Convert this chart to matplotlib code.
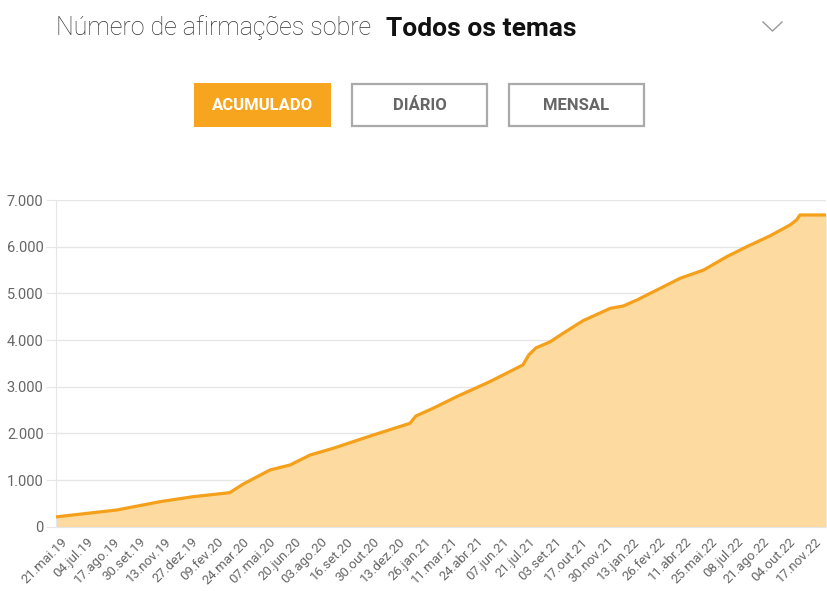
import matplotlib
matplotlib.use("Agg")
import matplotlib.pyplot as plt
from matplotlib.patches import Rectangle
from matplotlib.lines import Line2D
from matplotlib.ticker import FuncFormatter
import matplotlib.transforms as mtransforms
import pandas as pd

# ---------------- data ----------------
dates = ["2019-05-21", "2019-09-01", "2019-11-13", "2020-01-08", "2020-03-10",
         "2020-04-01", "2020-05-17", "2020-06-20", "2020-07-24", "2020-09-01",
         "2020-11-08", "2021-01-09", "2021-01-19", "2021-02-17", "2021-03-29",
         "2021-05-24", "2021-07-19", "2021-07-29", "2021-08-10", "2021-09-03",
         "2021-09-25", "2021-10-29", "2021-12-14", "2022-01-05", "2022-01-28",
         "2022-03-14", "2022-04-11", "2022-05-21", "2022-06-29", "2022-08-02",
         "2022-09-10", "2022-10-14", "2022-10-25", "2022-10-31", "2022-12-14"]
values = [210, 358, 536, 643, 729,
          908, 1215, 1322, 1536, 1680,
          1965, 2215, 2372, 2537, 2786,
          3107, 3465, 3680, 3830, 3960,
          4143, 4415, 4679, 4729, 4857,
          5143, 5322, 5500, 5785, 6000,
          6230, 6464, 6571, 6679, 6679]

tick_labels = ["21.mai.19", "04.jul.19", "17.ago.19", "30.set.19", "13.nov.19",
               "27.dez.19", "09.fev.20", "24.mar.20", "07.mai.20", "20.jun.20",
               "03.ago.20", "16.set.20", "30.out.20", "13.dez.20", "26.jan.21",
               "11.mar.21", "24.abr.21", "07.jun.21", "21.jul.21", "03.set.21",
               "17.out.21", "30.nov.21", "13.jan.22", "26.fev.22", "11.abr.22",
               "25.mai.22", "08.jul.22", "21.ago.22", "04.out.22", "17.nov.22"]
y_ticks = [0, 1000, 2000, 3000, 4000, 5000, 6000, 7000]

title_regular = "Número de afirmações sobre"
title_bold = "Todos os temas"
buttons = ["ACUMULADO", "DIÁRIO", "MENSAL"]

# ---------------- style ----------------
LINE = "#F5A01A"
FILL = "#FDDA9F"
GRID = "#E6E6E6"
TXT = "#666666"
FONT = ["Roboto", "DejaVu Sans"]
plt.rcParams["font.family"] = FONT

W, H = 827, 591
fig = plt.figure(figsize=(W / 100, H / 100), dpi=100)

def fx(px):
    return px / W

def fy(py):
    return 1 - py / H

# axes placement (pixels)
L, R, T, B = 56, 826, 200, 526.7
ax = fig.add_axes([fx(L), fy(B), fx(R) - fx(L), fy(T) - fy(B)])

x = pd.to_datetime(dates)
start = x[0]
xd = (x - start).days.values
tick_pos = (pd.date_range(start, periods=len(tick_labels), freq="44D") - start).days.values

ax.fill_between(xd, 0, values, color=FILL, lw=0, zorder=2)
ax.plot(xd, values, color=LINE, lw=2.3, solid_joinstyle="round", zorder=3)

ax.set_xlim(xd[0], xd[-1])
ax.set_ylim(0, 7000)
ax.set_yticks(y_ticks)
ax.yaxis.set_major_formatter(FuncFormatter(lambda v, p: f"{int(v):,}".replace(",", ".")))
ax.grid(axis="y", color=GRID, lw=1, zorder=1)
ax.set_axisbelow(True)
ax.tick_params(axis="y", length=7, color=GRID, labelsize=10.5, labelcolor=TXT, pad=2)

ax.set_xticks(tick_pos)
ax.set_xticklabels(tick_labels, rotation=45, ha="right", va="top",
                   rotation_mode="anchor", fontsize=9.5, color=TXT)
ax.tick_params(axis="x", length=0, pad=6)
offset = mtransforms.ScaledTranslation(5 / 100, 0, fig.dpi_scale_trans)
for lab in ax.get_xticklabels():
    lab.set_transform(lab.get_transform() + offset)

for s in ["top", "right"]:
    ax.spines[s].set_visible(False)
ax.spines["left"].set_color(GRID)
ax.spines["bottom"].set_color(GRID)

# ---------------- title ----------------
t1 = fig.text(fx(56), fy(35.5), title_regular, fontsize=18, color="#333333",
              fontweight="light", va="baseline", ha="left")
fig.canvas.draw()
bb = t1.get_window_extent()
fig.text((bb.x1 + 15) / W, fy(35.5), title_bold, fontsize=19, color="#111111",
         fontweight="bold", va="baseline", ha="left")

# chevron
fig.add_artist(Line2D([fx(763), fx(772.5), fx(782)], [fy(22), fy(31), fy(22)],
                      color="#999999", lw=1.0))

# ---------------- buttons ----------------
btn_x = [194, 351, 508]
bw, bh, by = 137, 44, 83
for i, (lab, bx) in enumerate(zip(buttons, btn_x)):
    if i == 0:
        rect = Rectangle((fx(bx), fy(by + bh)), bw / W, bh / H, transform=fig.transFigure,
                         facecolor="#F7A51F", edgecolor="none")
        col = "white"
    else:
        rect = Rectangle((fx(bx + 1), fy(by + bh - 1)), (bw - 2) / W, (bh - 2) / H,
                         transform=fig.transFigure, facecolor="white",
                         edgecolor="#AAAAAA", lw=1.6)
        col = "#666666"
    fig.add_artist(rect)
    fig.text(fx(bx + bw / 2), fy(by + bh / 2), lab, fontsize=12, fontweight="bold",
             color=col, ha="center", va="center")

fig.savefig("out.png", dpi=100, facecolor="white")
